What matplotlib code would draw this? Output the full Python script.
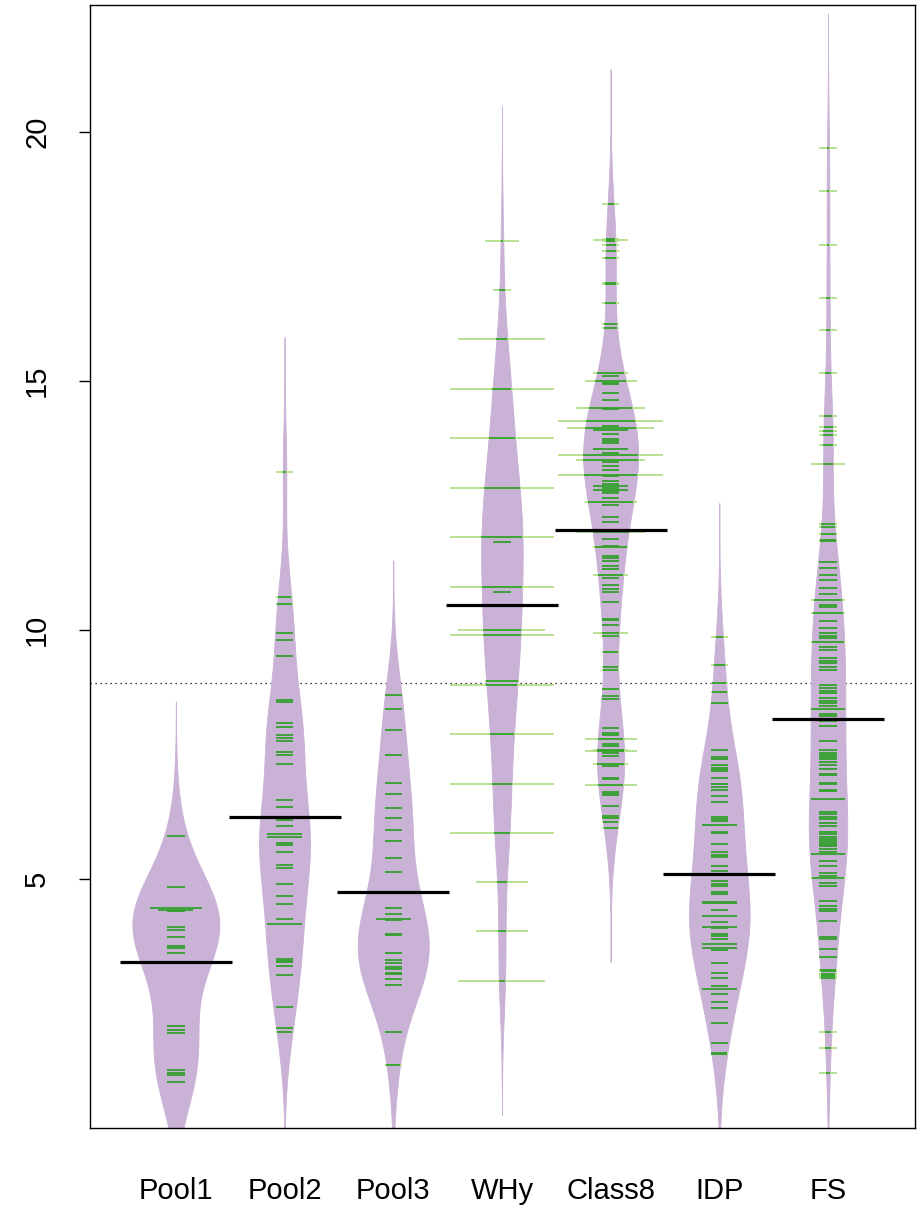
import numpy as np
import matplotlib
matplotlib.use("Agg")
import matplotlib.pyplot as plt

plt.rcParams["font.family"] = ["Liberation Sans", "DejaVu Sans"]

OUT_PNG = "out.png"

names = ["Pool1", "Pool2", "Pool3", "WHy", "Class8", "IDP", "FS"]

pool1 = [5.86, 4.84, 4.42, 4.42, 4.42, 4.37, 4.37, 4.35, 4.04, 3.97, 3.84, 3.66,
         3.62, 3.51, 3.34, 2.04, 1.97, 1.91, 1.17, 1.11, 1.07, 0.93]

pool2 = [13.18, 10.67, 10.52, 9.93, 9.80, 9.47, 8.60, 8.55, 8.13, 8.05, 7.89,
         7.83, 7.77, 7.55, 7.48, 7.31, 6.59, 6.45, 6.18, 6.06, 5.91, 5.91,
         5.85, 5.85, 5.72, 5.68, 5.55, 5.27, 5.21, 4.90, 4.65, 4.49, 4.19,
         4.10, 4.10, 3.39, 3.36, 3.34, 3.26, 3.07, 2.43, 2.01, 1.92]

pool3 = [8.69, 8.41, 7.99, 7.48, 6.92, 6.70, 6.42, 6.22, 5.98, 5.77, 5.42,
         5.13, 4.41, 4.30, 4.19, 4.19, 4.17, 3.90, 3.87, 3.52, 3.38, 3.32,
         3.24, 3.20, 3.12, 3.10, 3.00, 2.88, 1.92, 1.26]

why_vals = [17.82, 16.83, 15.84, 14.84, 13.86, 12.86, 11.87, 11.76, 10.87,
            10.77, 9.99, 9.89, 8.98, 8.90, 7.91, 6.91, 5.93, 4.93, 3.95, 2.95]
why_counts = [2, 1, 5, 10, 12, 18, 22, 1, 18, 1, 5, 14, 2, 14, 11, 9, 9, 3, 3, 5]

class8 = [18.56, 17.86, 17.84, 17.84, 17.80, 17.72, 17.60, 17.46, 16.97, 16.95,
          16.56, 16.14, 16.06, 15.16, 15.16, 15.09, 15.00, 15.00, 15.00, 14.96,
          14.93, 14.75, 14.61, 14.46, 14.46, 14.46, 14.46, 14.43,
          14.20, 14.20, 14.20, 14.20, 14.20, 14.20, 14.10,
          14.05, 14.05, 14.05, 14.05, 14.05, 14.01, 14.01, 13.94, 13.84, 13.80,
          13.76, 13.64, 13.64, 13.55, 13.51, 13.51, 13.51, 13.51, 13.51, 13.51,
          13.42, 13.42, 13.42, 13.42, 13.38, 13.30, 13.22,
          13.11, 13.11, 13.11, 13.11, 13.11, 13.11, 13.09, 12.99, 12.94,
          12.90, 12.90, 12.86, 12.82, 12.82, 12.78, 12.74, 12.64,
          12.56, 12.56, 12.56, 12.50, 12.26, 12.16, 11.96, 11.96, 11.96, 11.96,
          11.83, 11.69, 11.66, 11.66, 11.49, 11.44, 11.39, 11.29, 11.22,
          11.11, 11.11, 11.05, 10.91, 10.83, 10.77, 10.56, 10.22, 10.20, 10.10,
          9.94, 9.94, 9.88, 9.56, 9.25, 9.20, 8.81, 8.67, 8.62, 8.03, 7.93,
          7.89, 7.81, 7.81, 7.81, 7.70, 7.67, 7.59, 7.59, 7.57, 7.57, 7.57,
          7.52, 7.47, 7.30, 7.30, 7.26, 7.03, 7.00, 6.89, 6.89, 6.89, 6.74,
          6.70, 6.68, 6.47, 6.26, 6.23, 6.15, 6.03]

idp = [9.85, 9.30, 8.93, 8.75, 8.54, 7.59, 7.45, 7.40, 7.28, 7.23, 7.20, 7.16,
       7.02, 6.90, 6.84, 6.78, 6.67, 6.55, 6.24, 6.20, 6.16, 6.09, 6.09, 5.95,
       5.92, 5.71, 5.55, 5.48, 5.45, 5.26, 5.15, 4.95, 4.89, 4.85, 4.74, 4.69,
       4.54, 4.54, 4.51, 4.51, 4.38, 4.26, 4.26, 4.13, 4.04, 4.04, 4.01, 3.89,
       3.86, 3.80, 3.70, 3.70, 3.62, 3.62, 3.57, 3.32, 3.12, 3.02, 2.86, 2.80,
       2.80, 2.68, 2.52, 2.40, 2.11, 1.70, 1.51, 1.49]

fs = [19.68, 18.81, 17.72, 16.67, 16.03, 15.15, 14.29, 14.08, 14.00, 13.92,
      13.72, 13.33, 13.33, 12.13, 12.06, 11.92, 11.81, 11.79, 11.36, 11.24,
      11.11, 11.01, 10.84, 10.72, 10.61, 10.61, 10.50, 10.46, 10.34, 10.34,
      10.17, 10.04, 9.93, 9.88, 9.84, 9.76, 9.76, 9.65, 9.60, 9.43, 9.38,
      9.33, 9.25, 9.19, 8.89, 8.83, 8.78, 8.73, 8.63, 8.58, 8.53, 8.47, 8.41,
      8.41, 8.32, 8.27, 8.20, 8.17, 8.07, 7.77, 7.58, 7.53, 7.48, 7.45, 7.40,
      7.35, 7.28, 7.20, 7.10, 7.08, 6.93, 6.90, 6.78, 6.76, 6.60, 6.60, 6.34,
      6.30, 6.25, 6.20, 6.12, 6.07, 5.95, 5.90, 5.85, 5.80, 5.76, 5.72, 5.68,
      5.66, 5.60, 5.55, 5.51, 5.51, 5.37, 5.25, 5.11, 5.05, 5.01, 5.01, 4.92,
      4.85, 4.55, 4.46, 4.40, 4.36, 4.16, 3.84, 3.80, 3.60, 3.44, 3.18, 3.15,
      3.10, 3.06, 3.01, 1.92, 1.61, 1.11]

groups = [pool1, pool2, pool3, list(np.repeat(why_vals, why_counts)), class8, idp, fs]

BW = 0.9
LL = 0.16
MAXSTRIP = 0.96
MAXWIDTH = 0.8

FILL = "#CAB2D6"
IN_LINE = "#33A02C"
OUT_LINE = "#B2DF8A"


def kde(data, grid, bw):
    d = np.asarray(data, dtype=float)
    z = (grid[:, None] - d[None, :]) / bw
    return np.exp(-0.5 * z ** 2).sum(axis=1) / (len(d) * bw * np.sqrt(2 * np.pi))


grids = []
dens = []
for g in groups:
    g = np.asarray(g, dtype=float)
    grid = np.linspace(g.min() - 3 * BW, g.max() + 3 * BW, 512)
    grids.append(grid)
    dens.append(kde(g, grid, BW))

scale = (MAXWIDTH / 2) / max(d.max() for d in dens)

fig = plt.figure(figsize=(9.23, 12.07), dpi=100)
ax = fig.add_axes([0.0975, 0.0655, 0.8938, 0.9304])

for i, g in enumerate(groups):
    pos = i + 1
    hw = dens[i] * scale
    ax.fill_betweenx(grids[i], pos - hw, pos + hw, color=FILL, lw=0.6, edgecolor=FILL, zorder=1)

    vals, cnts = np.unique(np.asarray(g, dtype=float), return_counts=True)
    for v, c in zip(vals, cnts):
        half = min(c * LL, MAXSTRIP) / 2
        inside = np.interp(v, grids[i], hw)
        if half > inside:
            ax.plot([pos - half, pos + half], [v, v], color=OUT_LINE, lw=1.3, zorder=2,
                    solid_capstyle="butt")
        w = min(half, inside)
        ax.plot([pos - w, pos + w], [v, v], color=IN_LINE, lw=1.3, zorder=3,
                solid_capstyle="butt")

    ax.plot([pos - 0.515, pos + 0.515], [np.mean(g)] * 2, color="black", lw=2.3, zorder=4,
            solid_capstyle="butt")

overall = np.mean(np.concatenate([np.asarray(g, dtype=float) for g in groups]))
ax.axhline(overall, color="black", lw=0.9, ls=(0, (1, 3)), zorder=0.5)

ax.set_xlim(0.21, 7.8)
ax.set_ylim(0, 22.55)
ax.set_xticks(range(1, 8))
ax.set_xticklabels(names, fontsize=21)
ax.tick_params(axis="x", length=0, pad=35)
ax.set_yticks([5, 10, 15, 20])
ax.set_yticklabels(["5", "10", "15", "20"], fontsize=21, rotation=90, va="center")
ax.tick_params(axis="y", length=8, width=1, pad=20)
for s in ax.spines.values():
    s.set_linewidth(1.0)

fig.savefig(OUT_PNG, dpi=100)
plt.close(fig)
